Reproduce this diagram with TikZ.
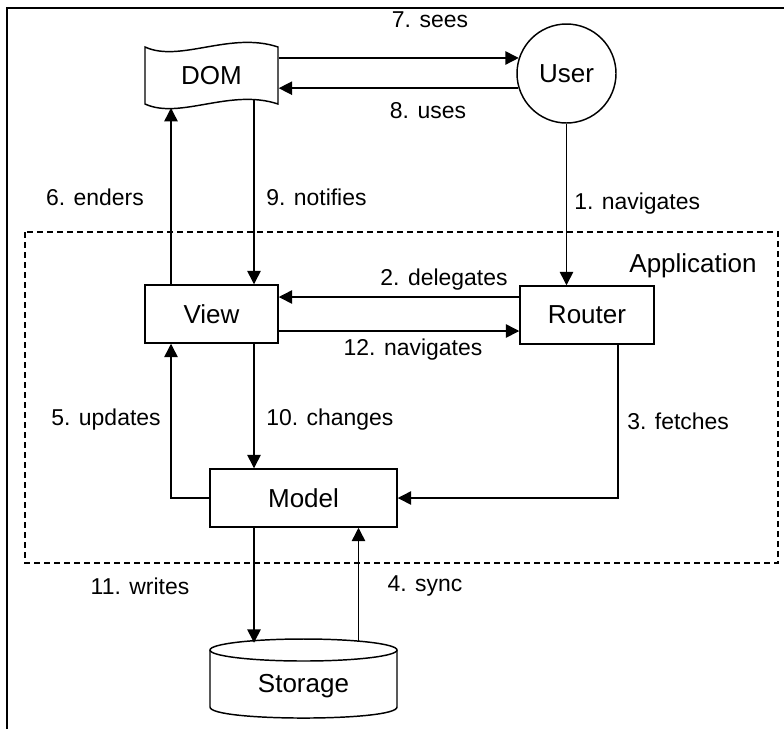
\documentclass[tikz,border=0pt]{standalone}
\usepackage{fontspec}
\setmainfont{Liberation Sans}
\usetikzlibrary{arrows.meta}
\tikzset{
  box/.style={draw, line width=1.1pt, inner sep=0pt, font=\fontsize{19.5}{23}\selectfont},
  conn/.style={line width=1.1pt, -{Triangle[length=10pt,width=10pt]}},
  lbl/.style={inner sep=0pt, font=\fontsize{17.2}{20}\selectfont},
}

\begin{document}
\begin{tikzpicture}[x=0.75pt,y=0.75pt,yscale=-1,xscale=1]
\useasboundingbox (0,0) rectangle (784,729);

%Outer frame
\draw[line width=1.1pt] (7,729) -- (7,8) -- (790,8);
%Application boundary
\draw[line width=0.8pt, dash pattern=on 4.5pt off 3pt] (25,232) rectangle (778,563);

%Shape: DOM (wavy tape)
\node[box, draw=none, minimum width=99.75pt, minimum height=42.75pt] (dom) at (211.5,75.5) {DOM};
\draw[line width=1.1pt] (145,47) .. controls (180,63) and (230,31) .. (278,47) -- (278,104)
  .. controls (230,88) and (180,120) .. (145,104) -- cycle;
\coordinate (domin) at (171,108);
\coordinate (domout) at (254,100);

%Shape: User
\node[box, circle, minimum size=74.25pt] (user) at (566.5,73.5) {User};
%Shape: View, Router, Model
\node[box, minimum width=99.75pt, minimum height=43.5pt] (view) at (211.5,314) {View};
\node[box, minimum width=100.5pt, minimum height=43.5pt] (router) at (587,315) {Router};
\node[box, minimum width=140.25pt, minimum height=43.5pt] (model) at (303.5,498) {Model};

%Shape: Storage (cylinder)
\node[box, draw=none, minimum width=140.25pt, minimum height=59.25pt, text depth=0pt] (storage) at (303.5,683) {Storage};
\draw[line width=1.1pt] (303.5,650) ellipse [x radius=93.5, y radius=11];
\draw[line width=1.1pt] (210,650) -- (210,707) .. controls (210,721.7) and (397,721.7) .. (397,707) -- (397,650);
\coordinate (syncx) at (358.5,641);

%Connectors (shifts run downwards here, yscale=-1)
\draw[conn] (dom.east |- user.162) -- (user.162);
\draw[conn] (user.197) -- (dom.east |- user.197);
\draw[conn] (user.south) -- (router.north -| user.south);
\draw[conn] ([yshift=-13.5pt]router.west) coordinate (d2) -- (view.east |- d2);
\draw[conn] ([yshift=12.75pt]view.east) coordinate (n12) -- (router.west |- n12);
\draw[conn] (view.north -| domin) -- (domin);
\draw[conn] (domout) -- (view.north -| domout);
\draw[conn] (view.south -| domout) -- (model.north -| domout);
\draw[conn] (model.west) -| (view.south -| domin);
\draw[conn] ([xshift=23.25pt]router.south) |- (model.east);
\draw[conn] (model.south -| domout) -- (storage.north -| domout);
\draw[conn] (syncx) -- (model.south -| syncx);

% Text Node
\node[lbl] (l7) at (430,20) {7. sees};
\node[lbl] (l8) at (428,111) {8. uses};
\node[lbl] (l6) at (95,197) {6. enders};
\node[lbl, anchor=west] (l9) at (266,197) {9. notifies};
\node[lbl, anchor=west] (l1) at (574,204) {1. navigates};
\node[lbl, font=\fontsize{19.5}{23}\selectfont] (app) at (693,266) {Application};
\node[lbl] (l2) at (444,280) {2. delegates};
\node[lbl] (l12) at (413,350) {12. navigates};
\node[lbl] (l5) at (106,420) {5. updates};
\node[lbl, anchor=west] (l10) at (266,420) {10. changes};
\node[lbl, anchor=west] (l3) at (627,421) {3. fetches};
\node[lbl] (l11) at (140,586) {11. writes};
\node[lbl] (l4) at (425,586) {4. sync};

\end{tikzpicture}
\end{document}
